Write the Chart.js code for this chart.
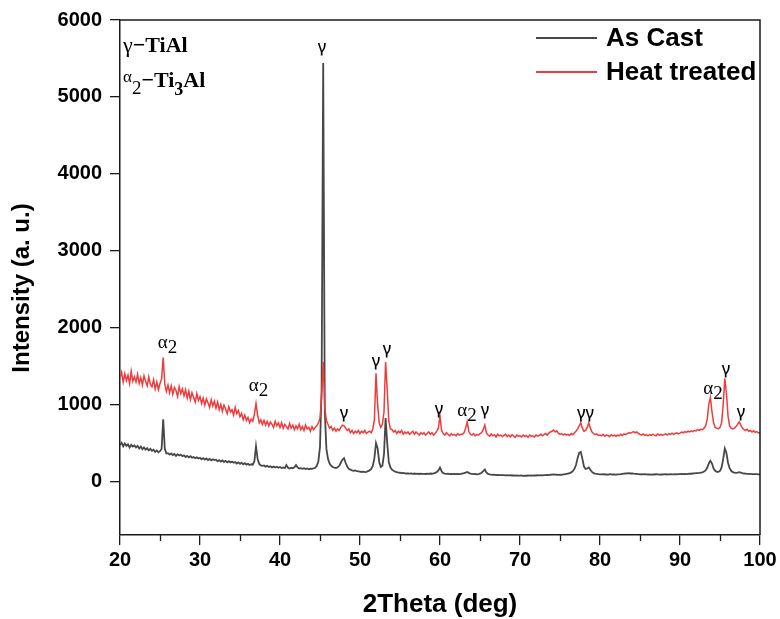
<!DOCTYPE html>
<html>
  <head>
    <script src="https://cdn.jsdelivr.net/npm/chart.js@4.4.0/dist/chart.umd.min.js"></script>
    <style>
      body { margin: 0; background: #fff; }
    </style>
  </head>

  <body>
    <canvas id="canvas" width="780" height="619"></canvas>
    <script>
      // scan grid: 20 to 100 deg, 0.2 deg step
      const startAngle = 20;
      const stepAngle = 0.2;

      // intensities, ten points (2 deg) per row
      const asCast = [
        470, 500, 455, 490, 460, 480, 440, 475, 450, 465,
        440, 460, 425, 450, 415, 440, 410, 430, 400, 420,
        395, 410, 380, 400, 375, 390, 420, 805, 420, 360,
        365, 345, 360, 340, 355, 330, 350, 335, 345, 325,
        335, 315, 330, 310, 325, 305, 315, 300, 310, 295,
        305, 285, 300, 280, 295, 275, 290, 270, 285, 275,
        280, 260, 275, 255, 270, 250, 265, 245, 260, 245,
        255, 240, 250, 230, 245, 225, 240, 220, 235, 215,
        225, 210, 220, 215, 260, 455, 290, 225, 205, 200,
        205, 190, 200, 185, 195, 180, 190, 178, 188, 175,
        185, 172, 180, 170, 210, 175, 165, 175, 168, 180,
        210, 180, 165, 170, 160, 168, 158, 165, 155, 162,
        160, 168, 175, 200, 260, 450, 1200, 5440, 900, 420,
        290, 230, 200, 185, 175, 170, 180, 200, 240, 280,
        300, 240, 190, 160, 150, 140, 135, 140, 130, 128,
        125, 120, 125, 118, 122, 130, 140, 160, 200, 300,
        495, 430, 250, 185, 200, 350, 820, 500, 250, 180,
        150, 135, 125, 118, 112, 110, 105, 108, 102, 100,
        100, 98, 102, 96, 100, 95, 98, 94, 97, 95,
        96, 94, 98, 95, 100, 97, 102, 108, 120, 140,
        178, 130, 105, 98, 95, 97, 93, 95, 92, 94,
        92, 95, 93, 96, 100, 105, 112, 120, 108, 98,
        95, 92, 94, 90, 93, 98, 110, 130, 152, 115,
        95, 88, 85, 82, 84, 80, 82, 78, 80, 78,
        80, 76, 78, 75, 77, 74, 76, 72, 75, 73,
        72, 74, 70, 73, 71, 74, 72, 75, 73, 76,
        74, 77, 75, 78, 76, 80, 78, 82, 80, 84,
        85, 88, 86, 84, 82, 85, 83, 88, 90, 95,
        100, 105, 115, 130, 160, 210, 300, 370, 382, 290,
        190, 160, 165, 178, 150, 120, 105, 98, 95, 92,
        90, 88, 91, 87, 89, 86, 90, 88, 87, 89,
        86, 88, 90, 92, 95, 98, 100, 102, 104, 100,
        102, 98, 96, 94, 92, 90, 91, 89, 90, 88,
        87, 89, 86, 88, 87, 90, 88, 86, 89, 87,
        88, 90, 87, 89, 91, 88, 90, 92, 89, 91,
        92, 94, 91, 95, 93, 96, 98, 97, 100, 102,
        104, 106, 108, 112, 115, 125, 140, 175, 230, 265,
        230, 165, 135, 122, 121, 135, 180, 290, 425, 370,
        240, 170, 135, 118, 110, 108, 112, 118, 112, 105,
        100, 98, 96, 95, 94, 93, 92, 92, 91, 90,
        90,
      ];

      const heatTreated = [
        1350, 1420, 1290, 1400, 1310, 1380, 1270, 1430, 1300, 1360,
        1290, 1390, 1270, 1350, 1250, 1370, 1300, 1240, 1360, 1260,
        1230, 1320, 1200, 1290, 1190, 1270, 1330, 1610, 1260, 1170,
        1250, 1150, 1240, 1130, 1220, 1180, 1100, 1230, 1140, 1200,
        1110, 1190, 1080, 1170, 1060, 1150, 1090, 1030, 1140, 1050,
        1100, 1010, 1080, 990, 1070, 1020, 960, 1060, 980, 1040,
        950, 1030, 930, 1000, 910, 990, 940, 880, 970, 900,
        930, 860, 960, 880, 920, 840, 880, 800, 860, 790,
        830, 760, 810, 780, 870, 1010, 860, 760, 800, 740,
        790, 730, 780, 720, 770, 740, 700, 780, 720, 760,
        700, 760, 690, 740, 710, 680, 750, 690, 730, 670,
        720, 680, 740, 670, 710, 660, 730, 680, 700, 650,
        710, 670, 700, 720, 760, 820, 1100, 1550, 950, 790,
        740, 690, 710, 660, 690, 650, 680, 660, 700, 730,
        720, 690, 660, 680, 630, 660, 620, 650, 630, 660,
        620, 650, 630, 660, 620, 640, 650, 630, 680, 800,
        1405, 1000, 760, 700, 740, 900, 1550, 1200, 780, 680,
        670, 640, 660, 620, 650, 630, 660, 610, 640, 620,
        640, 610, 630, 650, 610, 640, 620, 600, 630, 610,
        630, 600, 620, 640, 610, 630, 600, 620, 650, 690,
        846, 660, 620, 600, 630, 610, 590, 620, 600, 610,
        590, 620, 600, 610, 610, 630, 690, 772, 650, 610,
        600, 620, 590, 610, 600, 620, 630, 670, 730, 630,
        600, 585, 615, 590, 605, 575, 610, 590, 600, 580,
        595, 610, 580, 600, 575, 605, 590, 570, 600, 585,
        590, 575, 600, 580, 595, 570, 600, 585, 590, 575,
        600, 585, 595, 610, 590, 605, 620, 600, 625, 640,
        650, 665, 640, 655, 625, 610, 620, 600, 615, 600,
        610, 595, 620, 605, 630, 650, 680, 720, 760, 690,
        650, 660, 700, 760, 690, 640, 620, 605, 615, 595,
        600, 590, 610, 585, 600, 595, 580, 605, 590, 600,
        585, 600, 590, 610, 595, 615, 605, 620, 630, 625,
        635, 645, 630, 640, 620, 610, 600, 615, 595, 605,
        590, 605, 595, 610, 600, 590, 615, 600, 610, 595,
        605, 615, 600, 620, 610, 625, 610, 620, 630, 615,
        625, 640, 630, 645, 635, 650, 640, 655, 645, 660,
        655, 670, 660, 675, 670, 690, 720, 800, 1000, 1090,
        900, 760, 700, 690, 680, 700, 760, 1000, 1337, 1150,
        850, 720, 690, 680, 690, 710, 740, 772, 730, 690,
        670, 660, 675, 650, 660, 640, 655, 635, 645, 630,
        625,
      ];

      const xTicks = [20, 30, 40, 50, 60, 70, 80, 90, 100];
      const xMinorTicks = [25, 35, 45, 55, 65, 75, 85, 95];
      const yTicks = [0, 1000, 2000, 3000, 4000, 5000, 6000];

      // phase marks: 'g' = gamma TiAl, 'a2' = alpha2 Ti3Al, 'gg' = gamma doublet
      const peakPhase = ['a2', 'a2', 'g', 'g', 'g', 'g', 'g', 'a2', 'g', 'gg', 'a2', 'g', 'g'];
      const peakAngle = [25.94, 37.31, 45.25, 48.0, 52.0, 53.38, 59.88, 63.38, 65.63, 78.19, 94.13, 95.75, 97.63];
      const peakMarkY = [1773, 1213, 5649, 887, 1564, 1720, 940, 887, 927, 887, 1173, 1448, 901];

      const toPoints = (arr) => arr.map((v, i) => ({ x: startAngle + i * stepAngle, y: v }));

      const GREY = '#474747';
      const RED = '#ee3b3b';
      const INK = '#1a1a1a';
      const SANS = "'Liberation Sans', Arial, sans-serif";
      const SERIF = "'Liberation Serif', 'Times New Roman', serif";

      const decorations = {
        id: 'decorations',
        afterDatasetsDraw(chart) {
          const { ctx, chartArea: a, scales } = chart;
          const x = scales.x, y = scales.y;
          ctx.save();

          // closing frame on top and right
          ctx.strokeStyle = INK;
          ctx.lineWidth = 1.5;
          ctx.beginPath();
          ctx.moveTo(a.left, a.top);
          ctx.lineTo(a.right, a.top);
          ctx.lineTo(a.right, a.bottom);
          ctx.stroke();

          // minor ticks on 2theta axis
          ctx.lineWidth = 1.3;
          ctx.beginPath();
          xMinorTicks.forEach((v) => {
            const px = Math.round(x.getPixelForValue(v)) + 0.5;
            ctx.moveTo(px, a.bottom);
            ctx.lineTo(px, a.bottom + 6);
          });
          ctx.stroke();

          // peak labels
          ctx.fillStyle = '#000';
          ctx.textBaseline = 'middle';
          peakPhase.forEach((phase, i) => {
            const px = x.getPixelForValue(peakAngle[i]);
            const py = y.getPixelForValue(peakMarkY[i]);
            if (phase === 'a2') {
              ctx.font = `19px ${SERIF}`;
              const wa = ctx.measureText('α').width;
              const w2 = ctx.measureText('2').width;
              const left = px - (wa + w2) / 2;
              ctx.textAlign = 'left';
              ctx.fillText('α', left, py - 2);
              ctx.fillText('2', left + wa, py + 3);
            } else {
              ctx.font = `500 16px 'Noto Sans', ${SANS}`;
              ctx.textAlign = 'center';
              ctx.fillText(phase === 'gg' ? 'γγ' : 'γ', px, py);
            }
          });

          // phase key, top left
          ctx.textAlign = 'left';
          ctx.textBaseline = 'alphabetic';
          let cx = a.left + 3;
          const run = (txt, font, dy) => {
            ctx.font = font;
            ctx.fillText(txt, cx, dy);
            cx += ctx.measureText(txt).width;
          };
          run('γ', `22px ${SERIF}`, 52);
          run('−TiAl', `bold 22px ${SERIF}`, 52);
          cx = a.left + 3;
          run('α', `17px ${SERIF}`, 82);
          run('2', `19px ${SERIF}`, 94);
          run('−Ti', `bold 22px ${SERIF}`, 87);
          run('3', `bold 18px ${SERIF}`, 95);
          run('Al', `bold 22px ${SERIF}`, 87);

          // legend, top right
          const entries = [['As Cast', GREY, 38], ['Heat treated', RED, 72]];
          ctx.font = `bold 26px ${SANS}`;
          ctx.textBaseline = 'middle';
          entries.forEach(([label, color, ly]) => {
            ctx.strokeStyle = color;
            ctx.lineWidth = 2;
            ctx.beginPath();
            ctx.moveTo(536, ly);
            ctx.lineTo(597, ly);
            ctx.stroke();
            ctx.fillStyle = '#000';
            ctx.fillText(label, 606, ly + 1);
          });

          // axis titles
          ctx.textAlign = 'center';
          ctx.font = `bold 26px ${SANS}`;
          ctx.fillText('2Theta (deg)', 440, 605);
          ctx.translate(22, 288);
          ctx.rotate(-Math.PI / 2);
          ctx.font = `bold 24px ${SANS}`;
          ctx.fillText('Intensity (a. u.)', 0, 0);
          ctx.restore();
        },
      };

      const tickFont = { family: SANS, weight: 'bold', size: 20 };

      new Chart(document.getElementById('canvas').getContext('2d'), {
        type: 'line',
        data: {
          datasets: [
            {
              label: 'Heat treated',
              data: toPoints(heatTreated),
              borderColor: RED,
              borderWidth: 1.5,
              pointRadius: 0,
              tension: 0,
            },
            {
              label: 'As Cast',
              data: toPoints(asCast),
              borderColor: GREY,
              borderWidth: 1.8,
              pointRadius: 0,
              tension: 0,
            },
          ],
        },
        options: {
          responsive: false,
          animation: false,
          layout: { padding: { top: 20, right: 20, left: 0, bottom: 0 } },
          plugins: {
            legend: { display: false },
            tooltip: { enabled: false },
          },
          scales: {
            x: {
              type: 'linear',
              min: 20,
              max: 100,
              afterBuildTicks: (scale) => {
                scale.ticks = xTicks.map((v) => ({ value: v }));
              },
              afterFit: (scale) => {
                scale.height = 84;
              },
              ticks: { font: tickFont, color: '#000', padding: 3, maxRotation: 0, callback: (v) => String(v) },
              grid: { drawOnChartArea: false, tickLength: 10, color: INK, lineWidth: 1.3 },
              border: { color: INK, width: 1.5 },
            },
            y: {
              min: -700,
              max: 6000,
              afterBuildTicks: (scale) => {
                scale.ticks = yTicks.map((v) => ({ value: v }));
              },
              afterFit: (scale) => {
                scale.width = 120;
              },
              ticks: { font: tickFont, color: '#000', padding: 8, callback: (v) => String(v) },
              grid: { drawOnChartArea: false, tickLength: 10, color: INK, lineWidth: 1.3 },
              border: { color: INK, width: 1.5 },
            },
          },
        },
        plugins: [decorations],
      });
    </script>
  </body>
</html>
